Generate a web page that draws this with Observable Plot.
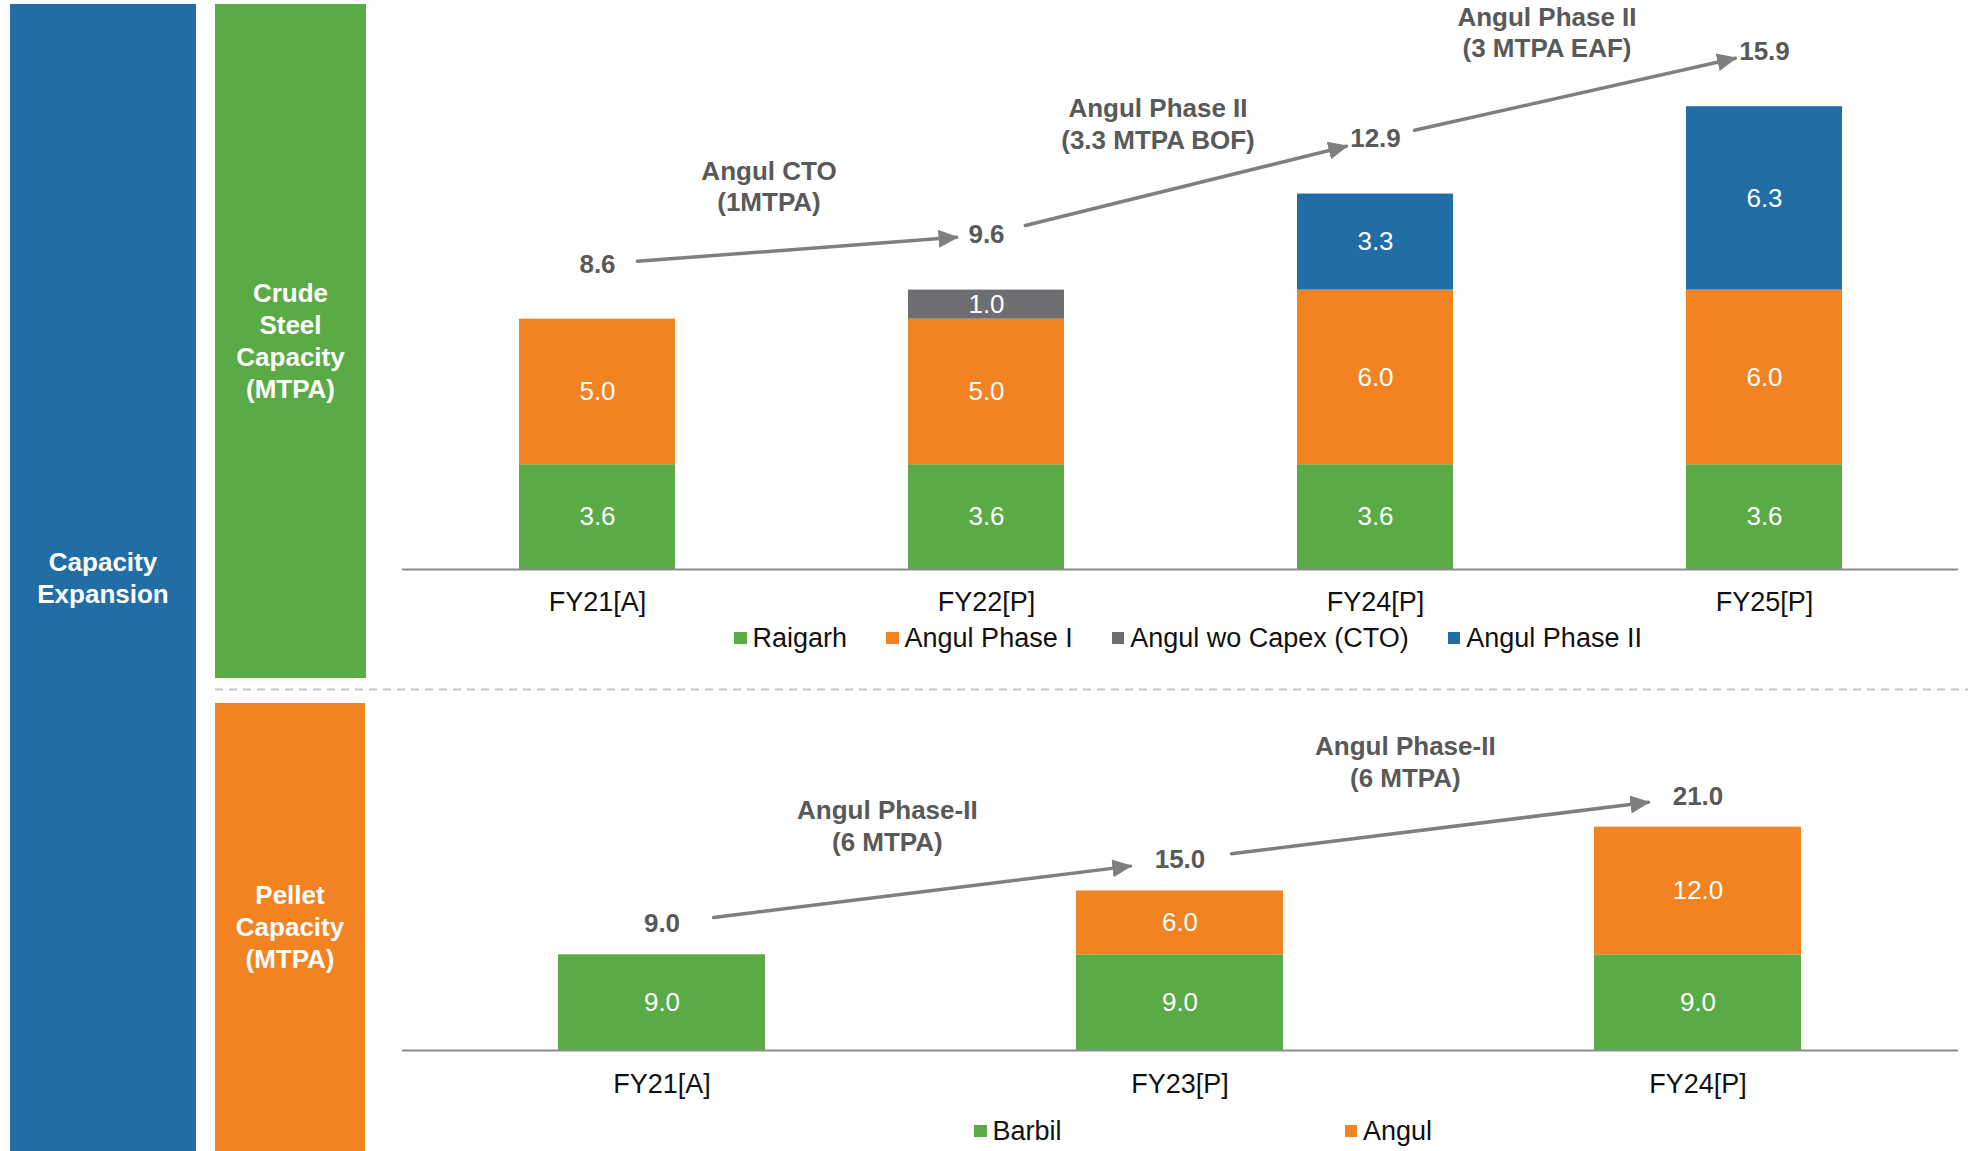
<!DOCTYPE html>
<html>
<head>
<meta charset="utf-8">
<script src="https://cdn.jsdelivr.net/npm/d3@7"></script>
<script src="https://cdn.jsdelivr.net/npm/@observablehq/plot@0.6"></script>
<style>
  html, body { margin: 0; padding: 0; background: #fff; overflow: hidden; }
  #page { position: relative; width: 1968px; height: 1151px; overflow: hidden;
          font-family: "Liberation Sans", Arial, Helvetica, sans-serif; }
  .panel { position: absolute; display: flex; align-items: center; justify-content: center;
           text-align: center; color: #fff; font-weight: bold; font-size: 26px; line-height: 32px; }
  .legend { position: absolute; display: flex; align-items: center; height: 30px;
            font-size: 27px; line-height: 30px; color: #111; white-space: nowrap; }
  .legend .item { display: flex; align-items: center; }
  .legend .swatch { width: 12.5px; height: 12.5px; margin-right: 6px; }
  .chart { position: absolute; left: 0; }
  .chart svg { overflow: visible; }
</style>
</head>
<body>
<div id="page">
  <div class="panel" style="left:10px; top:4px; width:186px; height:1147px; background:#206EA5;">Capacity<br>Expansion</div>
  <div class="panel" style="left:215px; top:4px; width:151px; height:674px; background:#5AAB46;">Crude<br>Steel<br>Capacity<br>(MTPA)</div>
  <div class="panel" style="left:215px; top:703px; width:150px; height:448px; background:#F28322;">Pellet<br>Capacity<br>(MTPA)</div>
  <svg style="position:absolute; left:215px; top:688px;" width="1753" height="3">
    <line x1="0" y1="1.5" x2="1753" y2="1.5" stroke="#C6C6C6" stroke-width="2" stroke-dasharray="8,6"></line>
  </svg>
  <div id="steel" class="chart" style="top:0px;"></div>
  <div id="steelLegend" class="legend" style="left:734px; top:623px;"></div>
  <div id="pellet" class="chart" style="top:700px;"></div>
  <div id="pelletLegend" class="legend" style="left:974px; top:1116px;"></div>
</div>
<script>
// ---- Crude steel capacity (MTPA) ----
const steelYears = ["FY21[A]", "FY22[P]", "FY24[P]", "FY25[P]"];
const steelSeries = ["Raigarh", "Angul Phase I", "Angul wo Capex (CTO)", "Angul Phase II"];
const steelColors = ["#5AAB46", "#F28322", "#6D6E71", "#206EA5"];
const raigarh     = [3.6, 3.6, 3.6, 3.6];
const angulPhase1 = [5.0, 5.0, 6.0, 6.0];
const angulCTO    = [0,   1.0, 0,   0];
const angulPhase2 = [0,   0,   3.3, 6.3];
const steelSteps = ["Angul CTO\n(1MTPA)", "Angul Phase II\n(3.3 MTPA BOF)", "Angul Phase II\n(3 MTPA EAF)"];

// ---- Pellet capacity (MTPA) ----
const pelletYears = ["FY21[A]", "FY23[P]", "FY24[P]"];
const pelletSeries = ["Barbil", "Angul"];
const pelletColors = ["#5AAB46", "#F28322"];
const barbil      = [9.0, 9.0, 9.0];
const angulPellet = [0,   6.0, 12.0];
const pelletSteps = ["Angul Phase-II\n(6 MTPA)", "Angul Phase-II\n(6 MTPA)"];

const FONT = "'Liberation Sans', Arial, Helvetica, sans-serif";
const W = 1968, ML = 402, MR = 10;
const GREY_TEXT = "#595959";
const ARROW = "#7F7F7F";

function buildRows(years, series, values) {
  const rows = [];
  series.forEach((s, j) => years.forEach((yr, i) => {
    const v = values[j][i];
    if (v > 0) rows.push({year: yr, series: s, value: v});
  }));
  return rows;
}

function buildTotals(years, values) {
  return years.map((yr, i) => ({year: yr, total: Math.round(d3.sum(values, s => s[i]) * 10) / 10}));
}

// Filled triangular heads for the growth arrows
function addArrowHeads(svg, id) {
  const ns = "http://www.w3.org/2000/svg";
  const defs = document.createElementNS(ns, "defs");
  const m = document.createElementNS(ns, "marker");
  m.setAttribute("id", id);
  m.setAttribute("viewBox", "0 0 20 18");
  m.setAttribute("refX", "18");
  m.setAttribute("refY", "9");
  m.setAttribute("markerUnits", "userSpaceOnUse");
  m.setAttribute("markerWidth", "20");
  m.setAttribute("markerHeight", "18");
  m.setAttribute("orient", "auto");
  const p = document.createElementNS(ns, "path");
  p.setAttribute("d", "M0,0 L20,9 L0,18 Z");
  p.setAttribute("fill", ARROW);
  m.appendChild(p);
  defs.appendChild(m);
  svg.insertBefore(defs, svg.firstChild);
  svg.querySelectorAll('g[aria-label="arrow"] path').forEach(el => el.setAttribute("marker-end", `url(#${id})`));
}

function capacityChart({years, series, colors, values, steps, height, marginTop, marginBottom, yMax,
                        labelDy, noteDx, noteDy, insetStart, insetEnd, tickPadding, markerId}) {
  const rows = buildRows(years, series, values);
  const totals = buildTotals(years, values);
  const stepRows = d3.pairs(totals).map(([a, b], i) => ({
    from: a.year, to: b.year, y1: a.total, y2: b.total, mid: (a.total + b.total) / 2, note: steps[i]
  }));
  const step = (W - ML - MR) / years.length;

  const svg = Plot.plot({
    width: W, height, marginLeft: ML, marginRight: MR, marginTop, marginBottom,
    style: `background: transparent; font: 26px ${FONT}; color: #111; overflow: visible;`,
    x: {domain: years, paddingInner: 0.6, paddingOuter: 0.3, label: null, axis: null},
    y: {domain: [0, yMax], axis: null},
    color: {domain: series, range: colors},
    marks: [
      Plot.barY(rows, Plot.stackY({x: "year", y: "value", fill: "series"})),
      Plot.text(rows, Plot.stackY({x: "year", y: "value", z: "series",
        text: d => d.value.toFixed(1), fill: "white", fontSize: 26, fontFamily: FONT})),
      Plot.ruleY([0], {stroke: "#8C8C8C", strokeWidth: 2}),
      Plot.axisX({tickSize: 0, tickPadding, fontSize: 27, fontFamily: FONT, fill: "#111", label: null}),
      Plot.text(totals, {x: "year", y: "total", text: d => d.total.toFixed(1), dy: labelDy,
        fontWeight: "bold", fill: GREY_TEXT, fontSize: 26, fontFamily: FONT}),
      Plot.arrow(stepRows, {x1: "from", y1: "y1", x2: "to", y2: "y2", dy: labelDy,
        stroke: ARROW, strokeWidth: 3.5, headLength: 0, insetStart, insetEnd}),
      Plot.text(stepRows, {x: "from", y: "mid", text: "note", dx: step / 2 + noteDx, dy: labelDy + noteDy,
        fontWeight: "bold", fill: GREY_TEXT, fontSize: 26, fontFamily: FONT, lineHeight: 1.21})
    ]
  });
  addArrowHeads(svg, markerId);
  return svg;
}

function buildLegend(el, series, colors, gap) {
  el.style.gap = gap + "px";
  series.forEach((s, i) => {
    const item = document.createElement("div");
    item.className = "item";
    const sw = document.createElement("span");
    sw.className = "swatch";
    sw.style.background = colors[i];
    const label = document.createElement("span");
    label.textContent = s;
    item.append(sw, label);
    el.appendChild(item);
  });
}

document.getElementById("steel").appendChild(capacityChart({
  years: steelYears, series: steelSeries, colors: steelColors,
  values: [raigarh, angulPhase1, angulCTO, angulPhase2], steps: steelSteps,
  height: 620, marginTop: 16, marginBottom: 51, yMax: 19,
  labelDy: -55, noteDx: -23, noteDy: -64, insetStart: 40, insetEnd: 30, tickPadding: 22,
  markerId: "steel-head"
}));

document.getElementById("pellet").appendChild(capacityChart({
  years: pelletYears, series: pelletSeries, colors: pelletColors,
  values: [barbil, angulPellet], steps: pelletSteps,
  height: 400, marginTop: 31, marginBottom: 50, yMax: 30,
  labelDy: -31, noteDx: -34, noteDy: -67, insetStart: 52, insetEnd: 50, tickPadding: 23,
  markerId: "pellet-head"
}));

buildLegend(document.getElementById("steelLegend"), steelSeries, steelColors, 39);
buildLegend(document.getElementById("pelletLegend"), pelletSeries, pelletColors, 283);
</script>
</body>
</html>
